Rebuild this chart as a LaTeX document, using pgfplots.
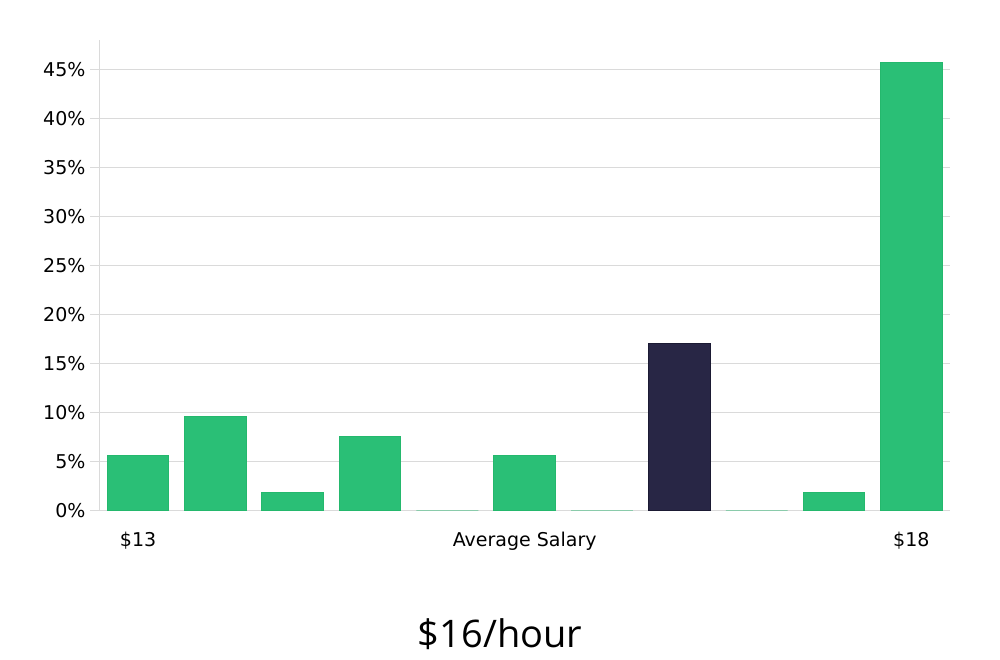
\documentclass[border=0pt]{standalone}
\usepackage{pgfplots}
\pgfplotsset{compat=1.18}
\usepackage{fontspec}
\setmainfont{DejaVu Sans}
\newfontfamily\titlefont{Open Sans}
\definecolor{barg}{HTML}{2ABF76}
\definecolor{bargb}{HTML}{24B86D}
\definecolor{bard}{HTML}{282645}
\definecolor{bardb}{HTML}{1B1A33}
\definecolor{gridc}{HTML}{DADADA}
\begin{document}
\begin{tikzpicture}[x=1pt,y=1pt]
\path[use as bounding box] (0,0) rectangle (1000,660);
\begin{axis}[
  at={(99pt,149pt)}, anchor=south west,
  scale only axis, width=851pt, height=471pt,
  xmin=-0.505, xmax=10.5, ymin=0, ymax=48,
  ybar, bar width=0.8, bar shift=0pt,
  axis x line=none,
  axis y line*=left,
  y axis line style={gridc, line width=1pt},
  ytick={0,5,...,45},
  yticklabel={\pgfmathprintnumber{\tick}\%},
  /pgf/number format/assume math mode=true,
  ymajorgrids, grid style={gridc, line width=1pt},
  major tick length=9pt,
  tick style={gridc, line width=1pt},
  tick align=outside,
  ticklabel style={font=\fontsize{19}{22}\selectfont, text=black},
  yticklabel style={xshift=-1pt},
  clip=false,
]
\addplot[fill=barg, draw=bargb, line width=1pt] coordinates {
 (0,5.7) (1,9.6) (2,1.9) (3,7.6) (4,0) (5,5.7) (6,0) (8,0) (9,1.9) (10,45.7)};
\addplot[fill=bard, draw=bardb, line width=1pt] coordinates {(7,17.1)};
\node[font=\fontsize{19}{22}\selectfont, anchor=base] at (axis cs:0,0) [yshift=-36pt] {\$13};
\node[font=\fontsize{19}{22}\selectfont, anchor=base] at (axis cs:5,0) [yshift=-36pt] {Average Salary};
\node[font=\fontsize{19}{22}\selectfont, anchor=base] at (axis cs:10,0) [yshift=-36pt] {\$18};
\end{axis}
\node[font=\titlefont\fontsize{38}{45}\selectfont, anchor=base] at (500,660-648) {\$16/hour};
\end{tikzpicture}
\end{document}
